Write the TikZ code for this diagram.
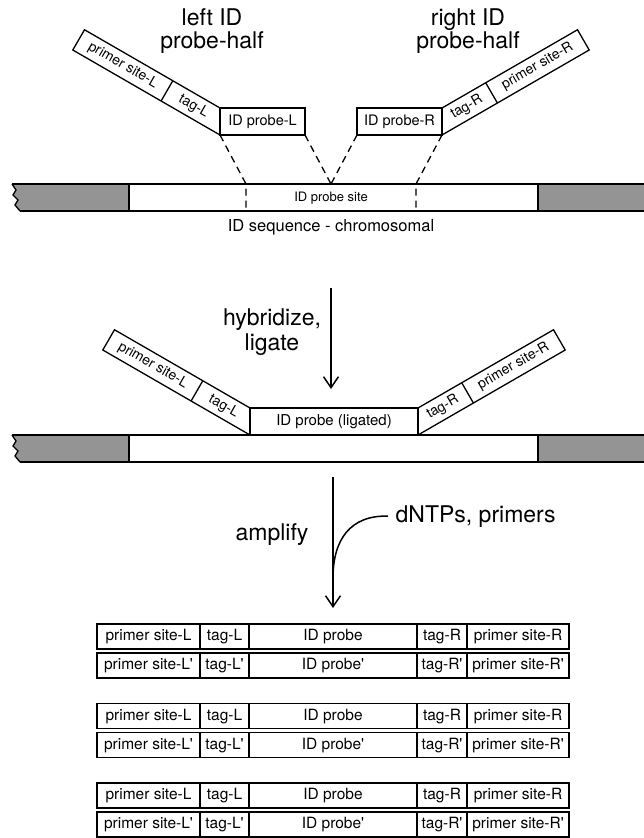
\documentclass[tikz,border=0pt]{standalone}
\usepackage{fontspec}
\setmainfont{TeX Gyre Heros}
\usetikzlibrary{arrows.meta,calc}
\newcommand\leftstrip[1]{%
  \draw (0,0) -- (-147.2,-85) -- (-135.5,-105.25) -- (0,-27);
  \draw (-58.9,-34) -- (-47.2,-54.25);
  \node[stxt, rotate=-30] (#1p) at (-97.2,-69.6) {primer site-L};
  \node[stxt, rotate=-30] (#1t) at (-26.5,-28.8) {tag-L};
}
\newcommand\rightstrip[1]{%
  \draw (0,0) -- (147.2,-85) -- (135.5,-105.25) -- (0,-27);
  \draw (55.4,-32) -- (43.7,-52.25);
  \node[stxt, rotate=30] (#1p) at (95.45,-68.6) {primer site-R};
  \node[stxt, rotate=30] (#1t) at (24.85,-27.8) {tag-R};
}
\newcommand\chromobar[2]{%
  \fill[hatch] (12,#1) -- (129,#1) -- (129,#2) -- (20,#2) -- (15,#2-6) -- (18,#2-11) -- (13,#2-16) -- (16,#2-21) -- cycle;
  \fill[hatch] (538,#1) rectangle (648,#2);
  \draw (12,#1) -- (648,#1);
  \draw (20,#2) -- (648,#2);
  \draw (12,#1) -- (16,#2-21) -- (13,#2-16) -- (18,#2-11) -- (15,#2-6) -- (20,#2);
  \draw (129,#1) -- (129,#2);
  \draw (538,#1) -- (538,#2);
}
\newcommand\probeRow[7]{%
  \node[cell, minimum width=103pt] (#1a) at (97,#2) {#3};
  \node[cell, minimum width=49pt] (#1b) at (#1a.north east) {#4};
  \node[cell, minimum width=168pt] (#1c) at (#1b.north east) {#5};
  \node[cell, minimum width=50pt] (#1d) at (#1c.north east) {#6};
  \node[cell, minimum width=102pt] (#1e) at (#1d.north east) {#7};
}
\newcommand\qq{\textquotesingle}
\begin{document}
\begin{tikzpicture}[x=1pt,y=-1pt,
  line width=1.3pt,
  big/.style={font=\fontsize{23}{26}\selectfont, inner sep=0pt},
  stxt/.style={font=\fontsize{14}{16}\selectfont, inner sep=0pt},
  pbox/.style={draw, line width=1.3pt, inner sep=0pt, outer sep=0pt, minimum height=27pt,
    font=\fontsize{14.5}{16}\selectfont, text height=10.5pt, text depth=3pt},
  cell/.style={draw, line width=1.7pt, inner sep=0pt, outer sep=0pt, minimum height=25pt,
    anchor=north west, font=\fontsize{15.5}{17}\selectfont, text height=11.5pt, text depth=3.5pt},
  hatch/.style={fill=black!42},
  dashline/.style={line width=1.3pt, dash pattern=on 7pt off 5pt},
  arr/.style={-{Straight Barb[length=11pt,width=15pt]}, line width=1.5pt},
]
\useasboundingbox (0,0) rectangle (644,838);

% ---------- titles
\node[big, anchor=base] (tl1) at (212,25) {left ID};
\node[big, anchor=base] (tl2) at (212,48) {probe-half};
\node[big, anchor=base] (tr1) at (468,25) {right ID};
\node[big, anchor=base] (tr2) at (468,48) {probe-half};

% ---------- first chromosome bar
\chromobar{184}{211}
\node[font=\fontsize{13}{15}\selectfont, inner sep=0pt] (site) at (331,198) {ID probe site};
\node[font=\fontsize{16.5}{18}\selectfont, inner sep=0pt, anchor=base] (chrom) at (331,231) {ID sequence - chromosomal};

% ---------- probe halves
\node[pbox, minimum width=85pt] (pL) at (262.5,121.5) {ID probe-L};
\node[pbox, minimum width=85pt] (pR) at (399.5,121.5) {ID probe-R};
\begin{scope}[shift={(220,135)}]\leftstrip{a}\end{scope}
\begin{scope}[shift={(442,135)}]\rightstrip{b}\end{scope}

\coordinate (dl) at (246,184);
\coordinate (dm) at (331,184);
\coordinate (dr) at (416,184);
\coordinate (dlb) at (246,211);
\coordinate (drb) at (416,211);
\draw[dashline] (pL.south west) -- (dl) -- (dlb);
\draw[dashline] (pL.south east) -- (dm);
\draw[dashline] (pR.south west) -- (dm);
\draw[dashline] (pR.south east) -- (dr) -- (drb);

% ---------- hybridize arrow
\node[big, anchor=base] (hyb) at (272,325) {hybridize,};
\node[big, anchor=base] (lig) at (272,350) {ligate};
\coordinate (h1) at (331,288);
\coordinate (h2) at (331,389);
\draw[arr] (h1) -- (h2);

% ---------- ligated probe on second bar
\chromobar{435}{462}
\node[pbox, minimum width=168pt] (lig1) at (334,421.5) {\fontsize{15}{17}\selectfont ID probe (ligated)};
\begin{scope}[shift={(250,435)}]\leftstrip{c}\end{scope}
\begin{scope}[shift={(418,435)}]\rightstrip{d}\end{scope}

% ---------- amplify arrow
\coordinate (a1) at (333,477);
\coordinate (a2) at (333,608);
\coordinate (amerge) at (333,578);
\draw[arr] (a1) -- (a2);
\node[big, anchor=base] (amp) at (272,540) {amplify};
\node[big, anchor=base west] (dntp) at (395,522) {dNTPs, primers};
\draw[line width=1.5pt] (dntp.west) ++(-7,0) coordinate (cs) (cs) .. controls (350,515) and (333,540) .. (amerge);

% ---------- products
\probeRow{ga}{624}{primer site-L}{tag-L}{ID probe}{tag-R}{primer site-R}
\probeRow{gb}{653}{primer site-L\qq}{tag-L\qq}{ID probe\qq}{tag-R\qq}{primer site-R\qq}
\probeRow{gc}{703.5}{primer site-L}{tag-L}{ID probe}{tag-R}{primer site-R}
\probeRow{gd}{732.5}{primer site-L\qq}{tag-L\qq}{ID probe\qq}{tag-R\qq}{primer site-R\qq}
\probeRow{ge}{783}{primer site-L}{tag-L}{ID probe}{tag-R}{primer site-R}
\probeRow{gf}{812}{primer site-L\qq}{tag-L\qq}{ID probe\qq}{tag-R\qq}{primer site-R\qq}
\end{tikzpicture}
\end{document}
